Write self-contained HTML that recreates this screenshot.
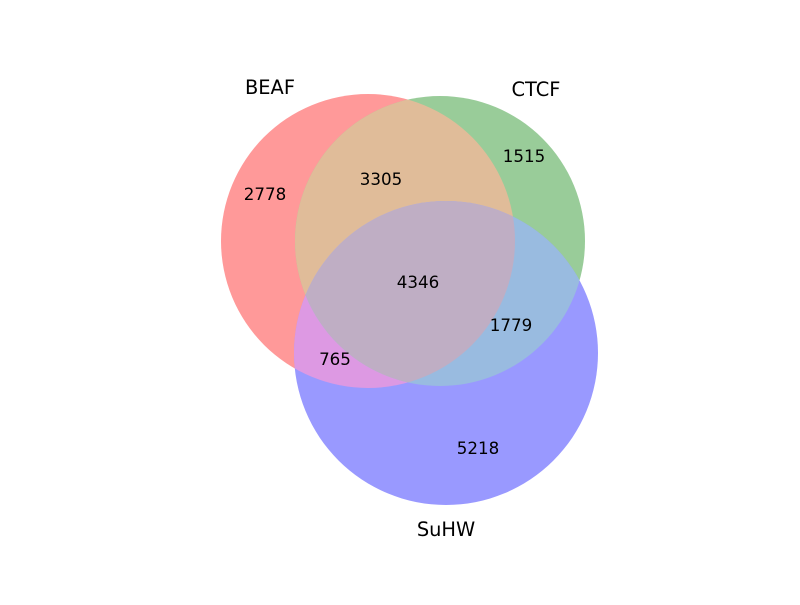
<!DOCTYPE html>
<html><head><meta charset="utf-8"><style>
html,body{margin:0;padding:0;background:#fff;}
svg text{font-family:"DejaVu Sans","Liberation Sans",sans-serif;}
</style></head><body>
<svg id="chart" width="800" height="600" viewBox="0 0 800 600" xmlns="http://www.w3.org/2000/svg"></svg>
<script>
const setNames = ["BEAF", "CTCF", "SuHW"];
const regionKeys = ["100", "010", "001", "110", "101", "011", "111"];
const regionCounts = [2778, 1515, 5218, 3305, 765, 1779, 4346];
// geometry (layout, not data)
const circles = [{cx:368,cy:241,r:147},{cx:440,cy:241,r:145},{cx:446,cy:353,r:152}];
const setLabelPos = [[270,94],[536,96],[446,536]];
const regionLabelPos = {"100":[265,200],"010":[524,162],"001":[478,454],"110":[381,185],"101":[335,365],"011":[511,331],"111":[418,288]};
const regionColors = {"100":"#ff9999","010":"#99cc99","001":"#9999ff","110":"#e0bc99","101":"#dd99e3","011":"#99bbe0","111":"#bfaec4"};
const NS="http://www.w3.org/2000/svg";
const svg=document.getElementById('chart');
const defs=document.createElementNS(NS,'defs');svg.appendChild(defs);
circles.forEach((c,i)=>{
  const cp=document.createElementNS(NS,'clipPath');cp.setAttribute('id','clip'+i);
  const ci=document.createElementNS(NS,'circle');ci.setAttribute('cx',c.cx);ci.setAttribute('cy',c.cy);ci.setAttribute('r',c.r);
  cp.appendChild(ci);defs.appendChild(cp);
});
function drawRegion(key){
  const idx=[];for(let i=0;i<3;i++)if(key[i]==='1')idx.push(i);
  const base=circles[idx[idx.length-1]];
  let node=document.createElementNS(NS,'circle');
  node.setAttribute('cx',base.cx);node.setAttribute('cy',base.cy);node.setAttribute('r',base.r);
  node.setAttribute('fill',regionColors[key]);
  
  
  for(let j=0;j<idx.length-1;j++){
    const g=document.createElementNS(NS,'g');g.setAttribute('clip-path','url(#clip'+idx[j]+')');
    g.appendChild(node);node=g;
  }
  svg.appendChild(node);
}
regionKeys.forEach(drawRegion);
regionKeys.forEach((k,i)=>{
  const t=document.createElementNS(NS,'text');
  const p=regionLabelPos[k];
  t.setAttribute('x',p[0]);t.setAttribute('y',p[1]);t.setAttribute('text-anchor','middle');
  t.setAttribute('font-size','16.7');t.textContent=regionCounts[i];
  
  
  svg.appendChild(t);
});
setNames.forEach((n,i)=>{
  const t=document.createElementNS(NS,'text');
  t.setAttribute('x',setLabelPos[i][0]);t.setAttribute('y',setLabelPos[i][1]);t.setAttribute('text-anchor','middle');
  t.setAttribute('font-size','19.4');t.textContent=n;
  
  
  svg.appendChild(t);
});
</script>
</body></html>
